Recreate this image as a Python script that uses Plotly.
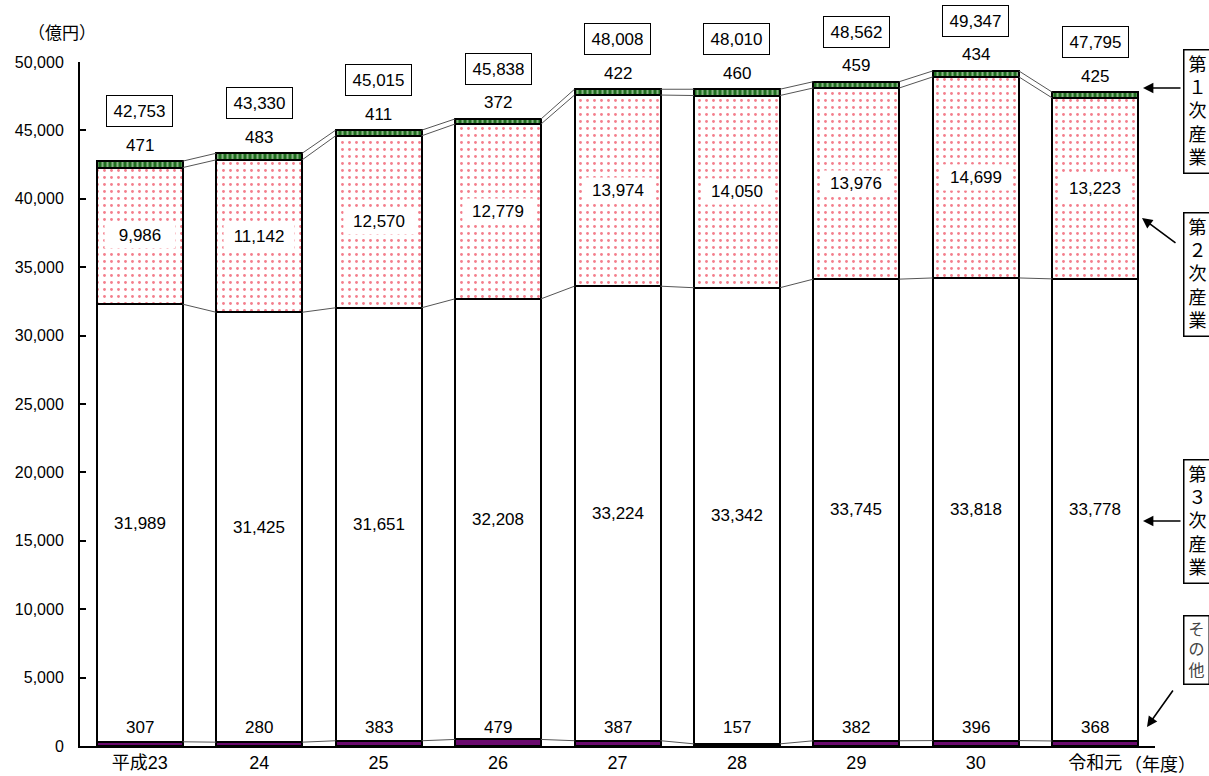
import plotly.graph_objects as go

# 年度
years = ["平成23", "24", "25", "26", "27", "28", "29", "30", "令和元"]
# 産業別内訳（億円）
other = [307, 280, 383, 479, 387, 157, 382, 396, 368]
tertiary = [31989, 31425, 31651, 32208, 33224, 33342, 33745, 33818, 33778]
secondary = [9986, 11142, 12570, 12779, 13974, 14050, 13976, 14699, 13223]
primary = [471, 483, 411, 372, 422, 460, 459, 434, 425]
totals = [42753, 43330, 45015, 45838, 48008, 48010, 48562, 49347, 47795]

y_ticks = list(range(0, 50001, 5000))

W, H = 1209, 776
ML, MR, MT, MB = 80, 54, 62, 30
PW, PH = W - ML - MR, H - MT - MB

FONT = "Liberation Sans, Arial, Noto Sans CJK JP, sans-serif"
BAR_W = 0.72
x = list(range(len(years)))


def px(xp):
    return (xp - ML) / PW


def py(yp):
    return (H - MB - yp) / PH


fig = go.Figure()

outline = dict(color="black", width=2)
fig.add_bar(x=x, y=other, width=BAR_W, name="その他",
            marker=dict(color="#6a0a6e", line=outline))
fig.add_bar(x=x, y=tertiary, width=BAR_W, name="第3次産業",
            marker=dict(color="white", line=outline))
fig.add_bar(x=x, y=secondary, width=BAR_W, name="第2次産業",
            marker=dict(color="white", line=outline,
                        pattern=dict(shape=".", fgcolor="#e8001a", bgcolor="white",
                                     size=7, solidity=0.13)))
fig.add_bar(x=x, y=primary, width=BAR_W, name="第1次産業",
            marker=dict(color="#1f6e1f", line=outline,
                        pattern=dict(shape="|", fgcolor="#eef8e8", bgcolor="#1f6e1f",
                                     size=5, solidity=0.4)))

# 系列線（各区分の境界を隣の棒と結ぶ）
lvl1 = other
lvl2 = [a + b for a, b in zip(lvl1, tertiary)]
lvl3 = [a + b for a, b in zip(lvl2, secondary)]
lvl4 = [a + b for a, b in zip(lvl3, primary)]
for lvl in (lvl1, lvl2, lvl3, lvl4):
    lx, ly = [], []
    for i in range(len(x) - 1):
        lx += [x[i] + BAR_W / 2, x[i + 1] - BAR_W / 2, None]
        ly += [lvl[i], lvl[i + 1], None]
    fig.add_scatter(x=lx, y=ly, mode="lines", line=dict(color="#555555", width=1),
                    hoverinfo="skip", showlegend=False)

ann = []
lab_font = dict(family=FONT, size=17, color="black")
for i in x:
    ann.append(dict(x=i, y=0, yshift=19, text=f"{other[i]:,}", showarrow=False,
                    font=lab_font))
    ann.append(dict(x=i, y=lvl1[i] + tertiary[i] / 2, text=f"{tertiary[i]:,}",
                    showarrow=False, font=lab_font))
    ann.append(dict(x=i, y=lvl2[i] + secondary[i] / 2, text=f"{secondary[i]:,}",
                    showarrow=False, font=lab_font, bgcolor="white", borderpad=1,
                    width=68, height=23))
    ann.append(dict(x=i, y=totals[i], yshift=16, text=f"{primary[i]:,}",
                    showarrow=False, font=lab_font))
    ann.append(dict(x=i, y=totals[i], yshift=50, text=f"{totals[i]:,}",
                    showarrow=False, font=lab_font, bgcolor="white",
                    bordercolor="black", borderwidth=1, borderpad=4,
                    width=57, height=22))

# 単位・年度
ann.append(dict(xref="paper", yref="paper", x=px(26), y=py(22), text="（億円）",
                showarrow=False, font=dict(family=FONT, size=17)))
ann.append(dict(x=8, y=0, xref="x", yref="y", xshift=65, yshift=-19, text="（年度）",
                showarrow=False, font=dict(family=FONT, size=18)))

# 右側の区分名
side = [
    ("第<br>１<br>次<br>産<br>業", 112, 18, "black"),
    ("第<br>２<br>次<br>産<br>業", 274, 18, "black"),
    ("第<br>３<br>次<br>産<br>業", 521, 18, "black"),
    ("そ<br>の<br>他", 650, 16, "#444444"),
]
for txt, cy, fs, col in side:
    ann.append(dict(xref="paper", yref="paper", x=px(1183), y=py(cy), xanchor="left",
                    yanchor="middle", text=txt, showarrow=False, align="center",
                    font=dict(family=FONT, size=fs, color=col),
                    bordercolor="black", borderwidth=1.5, borderpad=4,
                    bgcolor="white"))

arrows = [
    ((1143, 88), (1182, 88)),
    ((1142, 218), (1177, 244)),
    ((1143, 521), (1182, 521)),
    ((1147, 727), (1174, 689)),
]
for (hx, hy), (tx, ty) in arrows:
    ann.append(dict(xref="paper", yref="paper", x=px(hx), y=py(hy), text="",
                    showarrow=True, ax=tx - hx, ay=ty - hy, arrowhead=2,
                    arrowsize=1.3, arrowwidth=1.6, arrowcolor="black"))

fig.update_layout(
    width=W, height=H,
    margin=dict(l=ML, r=MR, t=MT, b=MB),
    barmode="stack",
    bargap=0,
    showlegend=False,
    plot_bgcolor="white",
    paper_bgcolor="white",
    font=dict(family=FONT, size=16, color="black"),
    annotations=ann,
    xaxis=dict(range=[-0.5, 8.5], tickmode="array", tickvals=x, ticktext=years,
               showline=True, linecolor="black", linewidth=1.5, ticks="",
               showgrid=False, zeroline=False, tickfont=dict(size=18),
               automargin=False),
    yaxis=dict(range=[0, 50000], tickmode="array", tickvals=y_ticks,
               tickformat=",", ticks="inside", ticklen=6, tickwidth=1.5,
               tickcolor="black", showline=True, linecolor="black", linewidth=2,
               showgrid=False, zeroline=False, tickfont=dict(size=16),
               ticklabelstandoff=11, automargin=False),
)

fig.write_html("out.html")
